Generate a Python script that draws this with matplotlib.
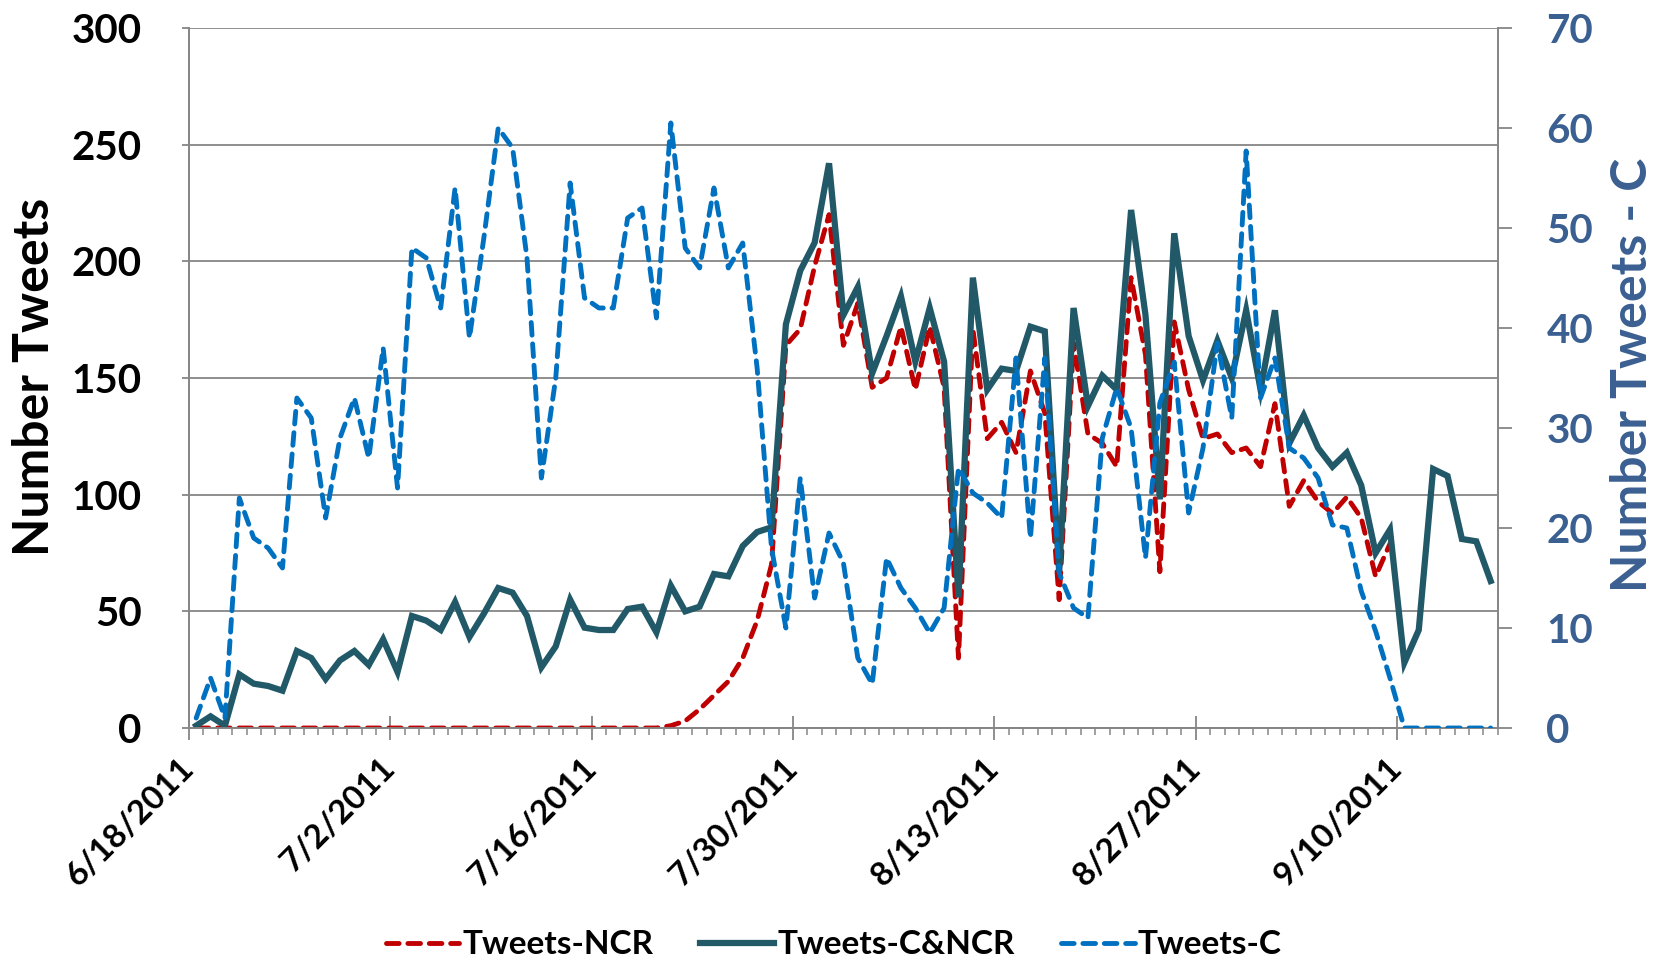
import numpy as np
import pandas as pd
import matplotlib
matplotlib.use('Agg')
import matplotlib.pyplot as plt
import matplotlib.dates as mdates
from matplotlib.transforms import ScaledTranslation

# daily counts, 6/18/2011 onwards
start_date = '2011-06-18'
n_days = 91

tweets_ncr = [0] * 33 + [
    1, 3, 8, 14, 20, 30, 46, 70, 164, 171,
    198, 220, 164, 182, 146, 150, 172, 145, 172, 146,
    30, 171, 124, 131, 118, 153, 135, 55, 165, 126,
    122, 112, 193, 160, 67, 174, 145, 124, 126, 118,
    120, 112, 139, 95, 106, 97, 92, 99, 90, 65,
    79] + [np.nan] * 7

tweets_c_ncr = [
    1, 5, 1, 23, 19, 18, 16, 33, 30, 21,
    29, 33, 27, 38, 24, 48, 46, 42, 54, 39,
    49, 60, 58, 48, 26, 35, 55, 43, 42, 42,
    51, 52, 41, 61, 50, 52, 66, 65, 78, 84,
    86, 173, 196, 208, 242, 177, 189, 152, 168, 185,
    157, 180, 157, 56, 193, 145, 154, 153, 172, 170,
    67, 180, 138, 151, 145, 222, 177, 98, 212, 168,
    149, 166, 150, 179, 145, 179, 122, 134, 120, 112,
    118, 104, 75, 85, 28, 42, 111, 108, 81, 80,
    63]

tweets_c = [
    1, 5, 1, 23, 19, 18, 16, 33, 31, 21,
    29, 33, 27, 38, 24, 48, 47, 42, 54, 39,
    49, 60, 58, 47, 25, 35, 54.5, 43, 42, 42,
    51, 52, 41, 60.5, 48, 46, 54, 46, 48.5, 36,
    18, 10, 25, 13, 19.5, 16.5, 7, 4.4, 17, 14,
    12, 9.5, 12, 26, 23.5, 22.5, 21, 37, 19, 37,
    15.5, 12, 11, 29, 34, 30, 17, 32.5, 36.6, 21.5,
    28, 38.5, 31, 57.7, 33, 37, 28, 27, 25, 20.3,
    20, 13.7, 9.7, 5, 0, 0, 0, 0, 0, 0,
    0]

tick_labels = ['6/18/2011', '7/2/2011', '7/16/2011', '7/30/2011',
               '8/13/2011', '8/27/2011', '9/10/2011']
left_ticks = [0, 50, 100, 150, 200, 250, 300]
right_ticks = [0, 10, 20, 30, 40, 50, 60, 70]

RED = '#C00000'
TEAL = '#215968'
BLUE = '#0070C0'
AXBLUE = '#3A5F91'
GRAY = '#868686'
FONT = ['Lato', 'DejaVu Sans']
plt.rcParams['font.family'] = FONT

# points sit in the middle of each day (between tick marks)
day0 = pd.Timestamp(start_date)
x = day0 + pd.to_timedelta(np.arange(n_days) + 0.5, unit='D')

fig = plt.figure(figsize=(16.68, 9.64), dpi=100)
ax = fig.add_subplot(111)
fig.subplots_adjust(left=0.1133, right=0.898, top=0.971, bottom=0.2448)
ax2 = ax.twinx()

l1, = ax.plot(x, tweets_ncr, color=RED, lw=3.5, dashes=(2.6, 1.8),
              dash_capstyle='round', label='Tweets-NCR', zorder=3)
l2, = ax.plot(x, tweets_c_ncr, color=TEAL, lw=4.5, solid_joinstyle='miter',
              label='Tweets-C&NCR', zorder=4)
l3, = ax2.plot(x, tweets_c, color=BLUE, lw=3.5, dashes=(2.6, 1.8),
               dash_capstyle='round', label='Tweets-C', zorder=5)

ax.set_xlim(day0, day0 + pd.Timedelta(days=n_days))
ax.set_ylim(0, 300)
ax2.set_ylim(0, 70)
ax.set_yticks(left_ticks)
ax2.set_yticks(right_ticks)
ax.grid(axis='y', color=GRAY, lw=1.3)
ax.set_axisbelow(True)

ax.set_xticks(pd.to_datetime(tick_labels, format='%m/%d/%Y'))
ax.set_xticklabels(tick_labels, rotation=45, ha='right', va='center',
                   rotation_mode='anchor', fontsize=24, fontweight='bold')
ax.xaxis.set_minor_locator(mdates.DayLocator())
offset = ScaledTranslation(0.22, 0, fig.dpi_scale_trans)
for lab in ax.get_xticklabels():
    lab.set_transform(lab.get_transform() + offset)

for a in (ax, ax2):
    for s in a.spines.values():
        s.set_color(GRAY)
        s.set_linewidth(1.3)
    a.spines['top'].set_visible(False)

ax.tick_params(axis='x', which='major', direction='inout', length=17,
               width=1.3, color=GRAY, pad=17)
ax.tick_params(axis='x', which='minor', direction='out', length=5,
               width=1.1, color=GRAY)
ax.tick_params(axis='y', direction='out', length=5, width=1.3, color=GRAY,
               labelsize=29, pad=29)
ax2.tick_params(axis='y', direction='out', length=10, width=1.3,
                color=GRAY, labelsize=29, labelcolor=AXBLUE, pad=25)
for lab in ax.get_yticklabels() + ax2.get_yticklabels():
    lab.set_fontweight('bold')

fig.text(0.0204, 0.609, 'Number Tweets', rotation=90, ha='center',
         va='center', fontsize=36, fontweight='bold')
fig.text(0.979, 0.611, 'Number Tweets - C', rotation=90, ha='center',
         va='center', fontsize=36, fontweight='bold', color=AXBLUE)

leg = fig.legend(handles=[l1, l2, l3], loc='center', ncol=3,
                 bbox_to_anchor=(0.5, 0.02), frameon=False,
                 handlelength=2.2, handletextpad=0.1, columnspacing=1.4,
                 prop={'weight': 'bold', 'size': 24})

fig.savefig('out.png', dpi=100)
